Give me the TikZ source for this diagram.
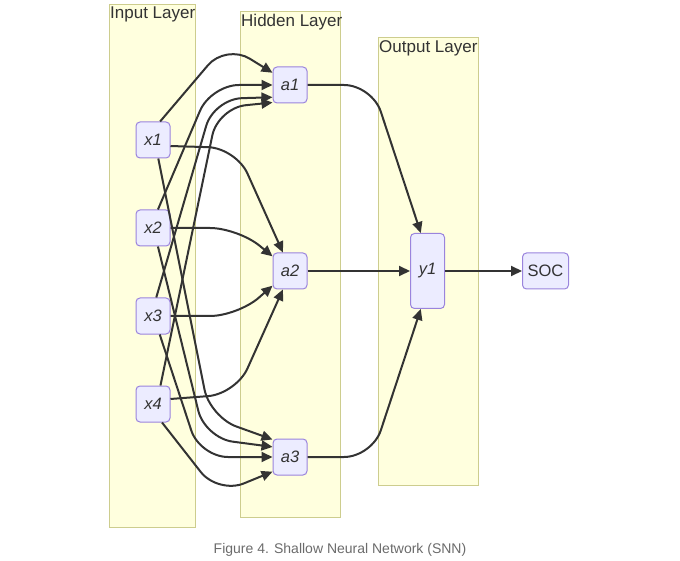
\documentclass[tikz,border=0pt]{standalone}
\usepackage{fontspec}
\setmainfont{Liberation Sans}
\usetikzlibrary{positioning,arrows.meta}
\definecolor{layerfill}{HTML}{FFFFDE}
\definecolor{layerline}{HTML}{CDCD8E}
\definecolor{unitfill}{HTML}{ECECFF}
\definecolor{unitline}{HTML}{9A84DD}
\definecolor{linkcol}{HTML}{333333}
\definecolor{capcol}{HTML}{6B6B6B}

\begin{document}
\begin{tikzpicture}[x=1pt, y=-1pt, on grid, node distance=88pt and 137.5pt,
unit/.style ={draw=unitline, fill=unitfill, rounded corners=4pt, line width=1pt,
  minimum width=34pt, minimum height=36pt, inner sep=0pt,
  font=\itshape\fontsize{16.5}{19}\selectfont, text=linkcol},
layer/.style ={draw=layerline, fill=layerfill, line width=1pt},
layertitle/.style ={anchor=north west, inner sep=1pt, font=\fontsize{17}{20}\selectfont, text=linkcol},
link/.style ={-{Triangle[length=11pt,width=10pt]}, draw=linkcol, line width=2pt, rounded corners=28pt}]
\useasboundingbox (0,0) rectangle (680,561);
% layer boxes
\draw[layer] (109,5) rectangle (195,527);
\draw[layer] (240,12) rectangle (340,517);
\draw[layer] (378,38) rectangle (478,485);
\node[layertitle] (tin) at (109,6) {Input Layer};
\node[layertitle] (thid) at (240,13) {Hidden Layer};
\node[layertitle] (tout) at (378,39) {Output Layer};
% input units
\node[unit] (x1) at (153,140) {x1};
\node[unit] (x2) [below = of x1] {x2};
\node[unit] (x3) [below = of x2] {x3};
\node[unit] (x4) [below = of x3] {x4};
% hidden units
\node[unit] (a1) at (290,85) {a1};
\node[unit] (a2) at (290,271) {a2};
\node[unit] (a3) at (290,457) {a3};
% output
\node[unit, minimum height=75pt] (y1) [right = of a2] {y1};
\node[unit, font=\fontsize{16.5}{19}\selectfont, minimum width=46pt] (soc) [right = 118pt of y1] {SOC};
% input -> a1
\draw[link] (x1.69) -- (226,44) -- (a1.145);
\draw[link] (x2.75) -- (211,85) -- (a1.west);
\draw[link] (x3.80) -- (214,99) -- (a1.215);
\draw[link] (x4.68) -- (218,108) -- (a1.225);
% input -> a2
\draw[link] (x1.-19) -- (236,148) -- (a2.111);
\draw[link] (x2.east) -- (238,228) -- (a2.140);
\draw[link] (x3.east) -- (238,316) -- (a2.220);
\draw[link] (x4.16) -- (236,394) -- (a2.-111);
% input -> a3
\draw[link] (x1.-74) -- (210,417) -- (a3.135);
\draw[link] (x2.-75) -- (205,438) -- (a3.150);
\draw[link] (x3.-70) -- (200,457) -- (a3.west);
\draw[link] (x4.-64) -- (218,494) -- (a3.220);
% hidden -> output
\draw[link] (a1.east) -- (372,85) -- (y1.100);
\draw[link] (a2) -- (y1);
\draw[link] (a3.east) -- (372,457) -- (y1.-100);
\draw[link] (y1) -- (soc);
\node[text=capcol, font=\fontsize{14}{16}\selectfont] (cap) at (340,550) {Figure 4. Shallow Neural Network (SNN)};
\end{tikzpicture}
\end{document}
